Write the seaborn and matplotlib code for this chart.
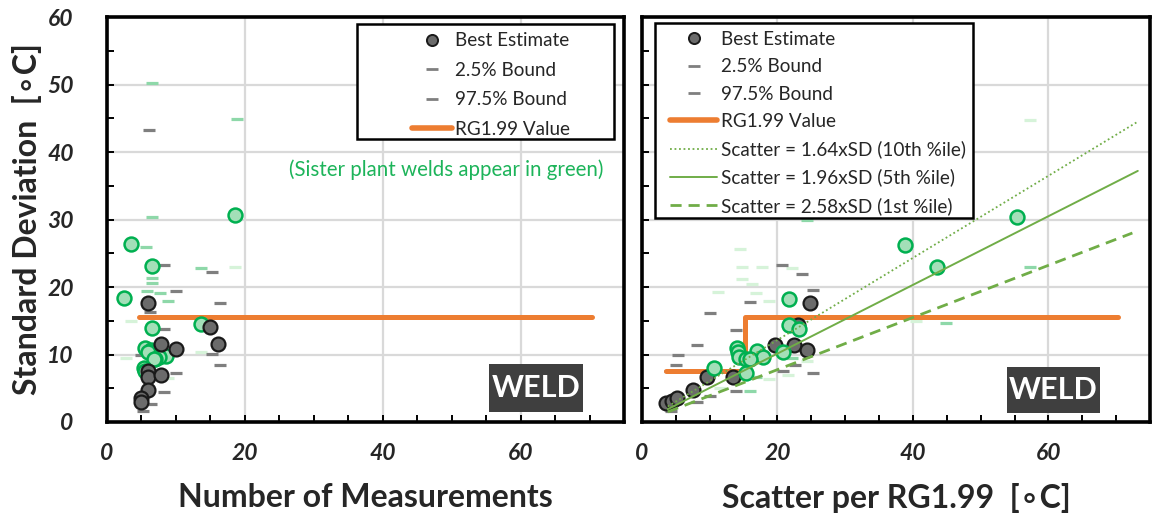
import matplotlib
matplotlib.use("Agg")
import matplotlib.pyplot as plt
import seaborn as sns
import pandas as pd
from matplotlib.lines import Line2D
from matplotlib.patches import Rectangle
from matplotlib.ticker import MultipleLocator

# ---------------- data ----------------
# Left panel: Number of Measurements vs Standard Deviation
left_black_n = [6.0, 15.0, 16.1, 10.0, 7.8, 5.9, 6.0, 7.9, 6.0, 4.9, 4.9]
left_black_sd = [17.7, 14.1, 11.6, 10.8, 11.6, 7.5, 6.6, 6.9, 4.7, 3.5, 2.9]
left_green_n = [18.5, 3.5, 6.6, 2.4, 13.7, 6.6, 5.5, 6.4, 6.6, 6.0, 8.6, 7.5, 7.0, 6.8, 5.4, 5.5]
left_green_sd = [30.6, 26.4, 23.1, 18.4, 14.5, 14.0, 10.9, 10.6, 10.3, 10.4, 9.8, 9.6, 9.4, 9.3, 8.0, 7.6]

left_grey_hi_n = [6.1, 8.2, 15.3, 10.0, 16.4, 8.2, 4.9]
left_grey_hi_sd = [43.3, 23.3, 22.2, 19.4, 17.7, 13.8, 9.9]
left_grey_lo_n = [6.2, 15.3, 16.4, 10.0, 8.2, 6.4, 5.2]
left_grey_lo_sd = [16.3, 10.1, 8.5, 7.2, 4.4, 2.7, 1.7]

left_green_hi_n = [6.6, 18.9, 6.6, 5.7, 13.7, 6.6, 6.6, 5.8, 7.7, 8.8]
left_green_hi_sd = [50.2, 44.9, 30.3, 25.9, 22.8, 21.4, 20.6, 19.4, 19.1, 18.0]
left_green_lo_n = [18.5, 3.5, 13.7, 2.8, 6.9, 8.8, 5.9]
left_green_lo_sd = [23.0, 15.0, 10.3, 9.5, 7.0, 6.5, 5.0]

left_rg_n = [4.6, 70.4]
left_rg_sd = [15.6, 15.6]

# Right panel: Scatter per RG1.99 vs Standard Deviation
right_black_sc = [3.5, 4.5, 5.1, 7.5, 9.6, 13.5, 19.7, 22.4, 24.4, 23.0, 24.8]
right_black_sd = [2.8, 3.1, 3.6, 4.8, 6.7, 6.7, 11.4, 11.4, 10.6, 14.3, 17.6]
right_green_sc = [55.4, 38.9, 43.6, 21.7, 21.7, 23.2, 14.0, 17.0, 14.1, 20.8, 14.3, 17.9, 15.4, 15.9, 10.6, 15.3]
right_green_sd = [30.4, 26.2, 22.9, 18.2, 14.4, 13.8, 10.9, 10.5, 10.4, 10.4, 9.7, 9.7, 9.3, 9.3, 8.0, 7.3]

right_grey_hi_sc = [20.6, 23.6, 25.2, 15.9, 10.0, 13.9, 8.1, 5.3, 5.0, 4.2, 23.2]
right_grey_hi_sd = [23.2, 22.0, 19.5, 17.8, 16.1, 13.6, 11.4, 10.0, 8.5, 7.5, 10.8]
right_grey_lo_sc = [20.8, 22.6, 25.2, 13.9, 10.0, 8.1, 4.3]
right_grey_lo_sd = [7.6, 8.4, 7.2, 4.6, 3.9, 2.9, 1.6]

right_green_hi_sc = [44.9, 57.3, 40.5, 14.5, 14.8, 17.7, 22.1, 14.8, 16.3, 11.2, 16.9, 18.8, 24.4, 18.7, 14.7, 21.5, 11.5]
right_green_hi_sd = [50.1, 44.8, 15.0, 25.7, 22.9, 22.9, 22.8, 21.2, 20.4, 19.3, 19.1, 18.0, 9.0, 6.4, 6.3, 6.9, 5.0]
right_green_lo_sc = [57.3, 44.9, 24.4, 22.1, 15.9, 16.9]
right_green_lo_sd = [22.9, 14.6, 30.0, 9.5, 4.6, 6.6]

right_rg_sc = [3.5, 15.2, 15.2, 70.3]
right_rg_sd = [7.6, 7.6, 15.5, 15.5]

p10_sc = [3.8, 73.2]
p10_sd = [2.3, 44.5]
p5_sc = [3.8, 73.2]
p5_sd = [1.9, 37.2]
p1_sc = [3.8, 72.4]
p1_sd = [1.5, 28.0]

x_ticks = [0, 20, 40, 60]
y_ticks = [0, 10, 20, 30, 40, 50, 60]

# ---------------- style ----------------
sns.set_theme(style="white")
FONTS = ['Lato', 'DejaVu Sans']
plt.rcParams['font.family'] = FONTS

ORANGE = '#ED7D31'
GLINE = '#70AD47'
GEDGE = '#00B050'
GFILL = '#A3DFB8'
BFILL = '#6B6B6B'
BEDGE = '#1A1A1A'
GREY_DASH = '#7F7F7F'
GD_MED = '#8ED8A9'
GD_LIGHT = '#D6F3D9'
GRID = '#D9D9D9'
TXT_GREEN = '#1DB45A'

fig = plt.figure(figsize=(11.69, 5.16), dpi=100)
axL = fig.add_axes([107/1169, 1-422/516, (624-107)/1169, (422-17)/516])
axR = fig.add_axes([642/1169, 1-422/516, (1150-642)/1169, (422-17)/516])

MS = 100
DASH_S = 64
LEG_FS = 13.6


def dashes(ax, x, y, color, z=2):
    sns.scatterplot(x=x, y=y, ax=ax, marker='_', s=DASH_S, color=color,
                    linewidth=2.3, zorder=z, legend=False)


def points(ax, x, y, fc, ec, lw, z=5):
    sns.scatterplot(x=x, y=y, ax=ax, marker='o', s=MS, color=fc,
                    edgecolor=ec, linewidth=lw, zorder=z, legend=False)


def style_axes(ax, show_y):
    ax.set_xlim(0, 75)
    ax.set_ylim(0, 60)
    ax.set_xticks(x_ticks)
    ax.set_yticks(y_ticks)
    ax.xaxis.set_minor_locator(MultipleLocator(5))
    ax.yaxis.set_minor_locator(MultipleLocator(5))
    ax.grid(True, which='major', color=GRID, linewidth=1.6, zorder=0)
    ax.set_axisbelow(True)
    for s in ax.spines.values():
        s.set_linewidth(2.6)
        s.set_color('black')
    ax.tick_params(axis='both', which='both', direction='in', length=5, width=1.4,
                   color='black', bottom=True, left=True, top=False, right=False)
    ax.tick_params(axis='x', which='major', pad=15)
    ax.tick_params(axis='y', which='major', pad=24)
    ax.set_xticklabels([str(t) for t in x_ticks], fontsize=16.5, fontweight='bold',
                       fontstyle='italic', family=FONTS)
    if show_y:
        ax.set_yticklabels([str(t) for t in y_ticks], fontsize=16.5, fontweight='bold',
                           fontstyle='italic', family=FONTS)
    else:
        ax.set_yticklabels([])


def weld_box(ax, x0, y0, w, h):
    ax.add_patch(Rectangle((x0, y0), w, h, transform=ax.transAxes,
                           facecolor='#3F3F3F', edgecolor='none', zorder=8))
    ax.text(x0 + w/2, y0 + h/2, 'WELD', transform=ax.transAxes, ha='center',
            va='center', color='white', fontsize=22, fontweight='bold', zorder=9,
            family=FONTS)


def legend_frame(ax, x0, y0, w, h):
    ax.add_patch(Rectangle((x0, y0), w, h, transform=ax.transAxes,
                           facecolor='white', edgecolor='black', linewidth=1.8,
                           zorder=10))


# ---------------- left panel ----------------
style_axes(axL, True)
dashes(axL, left_green_hi_n, left_green_hi_sd, GD_MED)
dashes(axL, left_green_lo_n, left_green_lo_sd, GD_LIGHT)
dashes(axL, left_grey_hi_n, left_grey_hi_sd, GREY_DASH)
dashes(axL, left_grey_lo_n, left_grey_lo_sd, GREY_DASH)
sns.lineplot(x=left_rg_n, y=left_rg_sd, ax=axL, color=ORANGE, linewidth=3.6,
             estimator=None, sort=False, zorder=3, legend=False)
points(axL, left_green_n, left_green_sd, GFILL, GEDGE, 1.8, z=5)
points(axL, left_black_n, left_black_sd, BFILL, BEDGE, 1.6, z=6)
axL.set_xlabel('Number of Measurements', fontsize=23, fontweight='bold', family=FONTS,
               labelpad=14)
axL.set_ylabel('Standard Deviation  [\u2218C]', fontsize=23, fontweight='bold',
               family=FONTS, labelpad=4)
axL.text(0.657, 0.622, '(Sister plant welds appear in green)', transform=axL.transAxes,
         ha='center', va='center', color=TXT_GREEN, fontsize=14.8, family=FONTS)
weld_box(axL, 0.738, 0.025, 0.183, 0.118)

base_handles = [
    Line2D([], [], linestyle='none', marker='o', markersize=8, markerfacecolor=BFILL,
           markeredgecolor=BEDGE, markeredgewidth=1.4),
    Line2D([], [], linestyle='none', marker='_', markersize=8, markeredgecolor=GREY_DASH,
           markeredgewidth=2),
    Line2D([], [], linestyle='none', marker='_', markersize=8, markeredgecolor=GREY_DASH,
           markeredgewidth=2),
    Line2D([], [], color=ORANGE, linewidth=4),
]
base_labels = ['Best Estimate', '2.5% Bound', '97.5% Bound', 'RG1.99 Value']

legend_frame(axL, 0.4836, 0.699, 0.497, 0.284)
legL = axL.legend(base_handles, base_labels, loc='upper left',
                  bbox_to_anchor=(0.59, 0.962), frameon=False,
                  prop={'family': FONTS, 'size': LEG_FS}, handlelength=2.1,
                  handletextpad=0.15, labelspacing=0.66, borderaxespad=0,
                  borderpad=0)
legL.set_zorder(11)

# ---------------- right panel ----------------
style_axes(axR, False)
dashes(axR, right_green_hi_sc, right_green_hi_sd, GD_LIGHT)
dashes(axR, right_green_lo_sc, right_green_lo_sd, GD_MED)
dashes(axR, right_grey_hi_sc, right_grey_hi_sd, GREY_DASH)
dashes(axR, right_grey_lo_sc, right_grey_lo_sd, GREY_DASH)
sns.lineplot(x=right_rg_sc, y=right_rg_sd, ax=axR, color=ORANGE, linewidth=3.6,
             estimator=None, sort=False, zorder=3, legend=False)
points(axR, right_black_sc, right_black_sd, BFILL, BEDGE, 1.6, z=5)
points(axR, right_green_sc, right_green_sd, GFILL, GEDGE, 1.8, z=6)
sns.lineplot(x=p10_sc, y=p10_sd, ax=axR, color=GLINE, linewidth=1.3, linestyle=(0, (1, 1.5)),
             estimator=None, sort=False, zorder=7, legend=False)
sns.lineplot(x=p5_sc, y=p5_sd, ax=axR, color=GLINE, linewidth=1.4,
             estimator=None, sort=False, zorder=7, legend=False)
sns.lineplot(x=p1_sc, y=p1_sd, ax=axR, color=GLINE, linewidth=2.0, linestyle=(0, (4, 2.5)),
             estimator=None, sort=False, zorder=7, legend=False)
axR.set_xlabel('Scatter per RG1.99  [\u2218C]', fontsize=23, fontweight='bold',
               family=FONTS, labelpad=14)
axR.set_ylabel('')
weld_box(axR, 0.718, 0.022, 0.183, 0.115)

r_handles = base_handles + [
    Line2D([], [], color=GLINE, linewidth=1.3, linestyle=(0, (1, 1.5))),
    Line2D([], [], color=GLINE, linewidth=1.4),
    Line2D([], [], color=GLINE, linewidth=2.0, linestyle=(0, (4, 2.5))),
]
r_labels = base_labels + ['Scatter = 1.64xSD (10th %ile)',
                          'Scatter = 1.96xSD (5th %ile)',
                          'Scatter = 2.58xSD (1st %ile)']
legend_frame(axR, 0.0256, 0.504, 0.626, 0.481)
legR = axR.legend(r_handles, r_labels, loc='upper left', bbox_to_anchor=(0.055, 0.966),
                  frameon=False, prop={'family': FONTS, 'size': LEG_FS},
                  handlelength=2.5, handletextpad=0.2, labelspacing=0.55,
                  borderaxespad=0, borderpad=0)
legR.set_zorder(11)

fig.savefig('out.png', dpi=100)
